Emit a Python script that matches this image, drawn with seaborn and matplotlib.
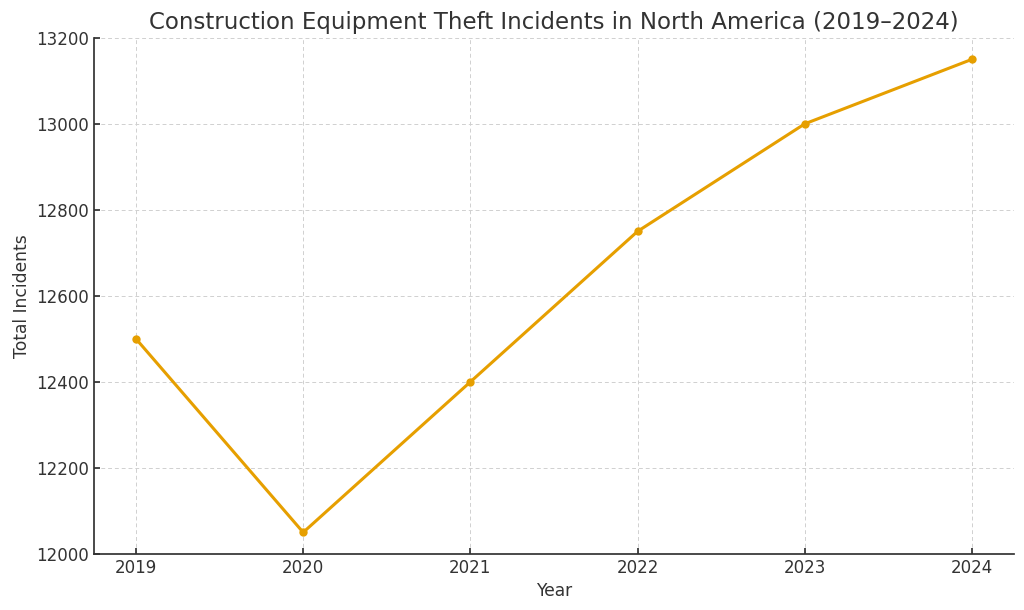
import matplotlib
matplotlib.use("Agg")
import matplotlib.pyplot as plt
import pandas as pd
import seaborn as sns

# data
years = [2019, 2020, 2021, 2022, 2023, 2024]
incidents = [12500, 12050, 12400, 12750, 13000, 13150]

df = pd.DataFrame({"Year": years, "Total Incidents": incidents})

sns.set_theme(style="ticks")
plt.rcParams['font.family'] = ['DejaVu Sans']

fig, ax = plt.subplots(figsize=(10.24, 6.1), dpi=100)
sns.lineplot(data=df, x="Year", y="Total Incidents", marker="o", color="#E69F00",
             linewidth=2.2, markersize=6, markeredgewidth=0, ax=ax)

ax.set_title("Construction Equipment Theft Incidents in North America (2019\u20132024)",
             fontsize=16.5, color="#333333")
ax.set_xlabel("Year", fontsize=12.3, color="#333333")
ax.set_ylabel("Total Incidents", fontsize=12.3, color="#333333")
ax.set_ylim(12000, 13200)
ax.set_xticks(years)
ax.tick_params(labelsize=12, colors="#333333", direction="in", length=4)
ax.grid(True, linestyle=(0, (4, 3)), color="#d0d0d0", linewidth=0.7)
sns.despine(ax=ax)
for s in ["left", "bottom"]:
    ax.spines[s].set_color("#333333")

plt.subplots_adjust(left=0.092, right=0.99, top=0.938, bottom=0.092)
plt.savefig("out.png", dpi=100)
